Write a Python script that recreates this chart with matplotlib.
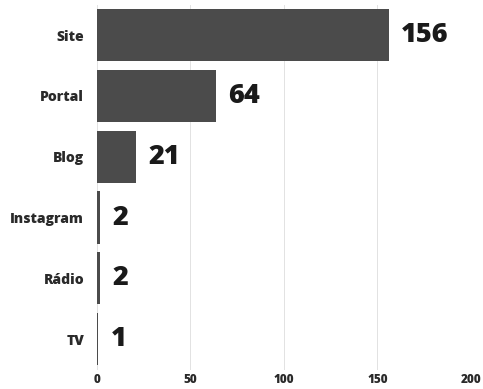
import matplotlib.pyplot as plt

# Media channel counts
channels = ['Site', 'Portal', 'Blog', 'Instagram', 'Rádio', 'TV']
counts = [156, 64, 21, 2, 2, 1]
x_ticks = [0, 50, 100, 150, 200]

plt.rcParams['font.family'] = ['Open Sans', 'DejaVu Sans']

fig, ax = plt.subplots(figsize=(4.83, 3.89), dpi=100)
fig.subplots_adjust(left=0.2, right=0.975, top=0.988, bottom=0.05)

bars = ax.barh(channels, counts, height=0.86, color='#4b4b4b', zorder=2)
ax.set_ylim(5.5, -0.5)
ax.set_xlim(0, 200)

# Value labels next to each bar
for bar, value in zip(bars, counts):
    ax.text(bar.get_width() + 6.5, bar.get_y() + bar.get_height() / 2, str(value),
            va='center', ha='left', fontsize=19.5, fontweight='heavy', color='#1a1a1a')

ax.set_xticks(x_ticks)
ax.xaxis.grid(True, color='#e2e2e2', linewidth=0.7, zorder=0)
ax.tick_params(axis='both', length=0, labelcolor='#2a2a2a')
ax.tick_params(axis='y', labelsize=10, pad=9)
ax.tick_params(axis='x', labelsize=8.5, pad=3)
for lbl in ax.get_xticklabels() + ax.get_yticklabels():
    lbl.set_fontweight('heavy')
for spine in ax.spines.values():
    spine.set_visible(False)

fig.savefig('out.png', dpi=100, facecolor='white')
